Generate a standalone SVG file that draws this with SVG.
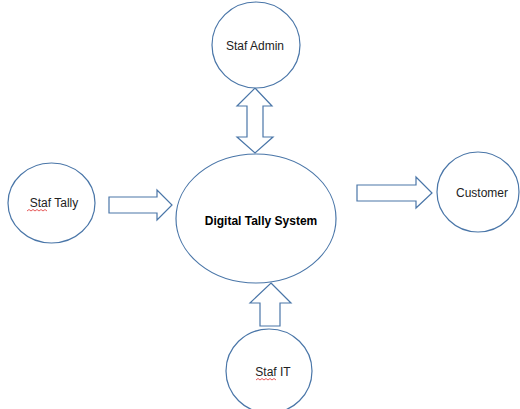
<svg xmlns="http://www.w3.org/2000/svg" width="520" height="409" viewBox="0 0 520 409">
<style>
.n{fill:#fff;stroke:#4a76a8;stroke-width:1.2}
.a{fill:#fff;stroke:#4a76a8;stroke-width:1.2;stroke-linejoin:miter}
.t{font-family:"Liberation Sans",Arial,sans-serif;font-size:12px;fill:#222;text-anchor:middle}
.b{font-weight:bold;fill:#000}
.sq{fill:none;stroke:#e03030;stroke-width:0.8}
</style>
<rect width="520" height="409" fill="#fff"/>
<g id="connectors">
<polygon class="a" points="255,88 272,106 263,106 263,137 273,137 255,153 237,137 247,137 247,106 237,106"/>
<polygon class="a" points="109,197 157,197 157,190 172,205 157,220 157,213 109,213"/>
<polygon class="a" points="357,185 416,185 416,177 432,193 416,208 416,201 357,201"/>
<polygon class="a" points="271,283 291,303 280,303 280,326 260,326 260,303 250,303"/>
</g>
<g id="staf-admin">
<ellipse class="n" cx="256" cy="45" rx="44" ry="43"/>
<text class="t" x="255" y="50">Staf Admin</text>
</g>
<g id="digital-tally-system">
<ellipse class="n" cx="256" cy="218.5" rx="80" ry="64.5"/>
<text class="t b" x="261" y="225">Digital Tally System</text>
</g>
<g id="staf-tally">
<ellipse class="n" cx="51.5" cy="203" rx="43.5" ry="40"/>
<text class="t" x="54" y="207">Staf Tally</text>
<path class="sq" d="M27,211 l2,-1.5 2,1.5 2,-1.5 2,1.5 2,-1.5 2,1.5 2,-1.5 2,1.5 2,-1.5 2,1.5"/>
</g>
<g id="customer">
<ellipse class="n" cx="478" cy="192" rx="41" ry="40"/>
<text class="t" x="482" y="197">Customer</text>
</g>
<g id="staf-it">
<ellipse class="n" cx="269" cy="371" rx="43" ry="42"/>
<text class="t" x="273" y="376">Staf IT</text>
<path class="sq" d="M256,380 l2,-1.5 2,1.5 2,-1.5 2,1.5 2,-1.5 2,1.5 2,-1.5 2,1.5 2,-1.5 2,1.5"/>
</g>
</svg>
